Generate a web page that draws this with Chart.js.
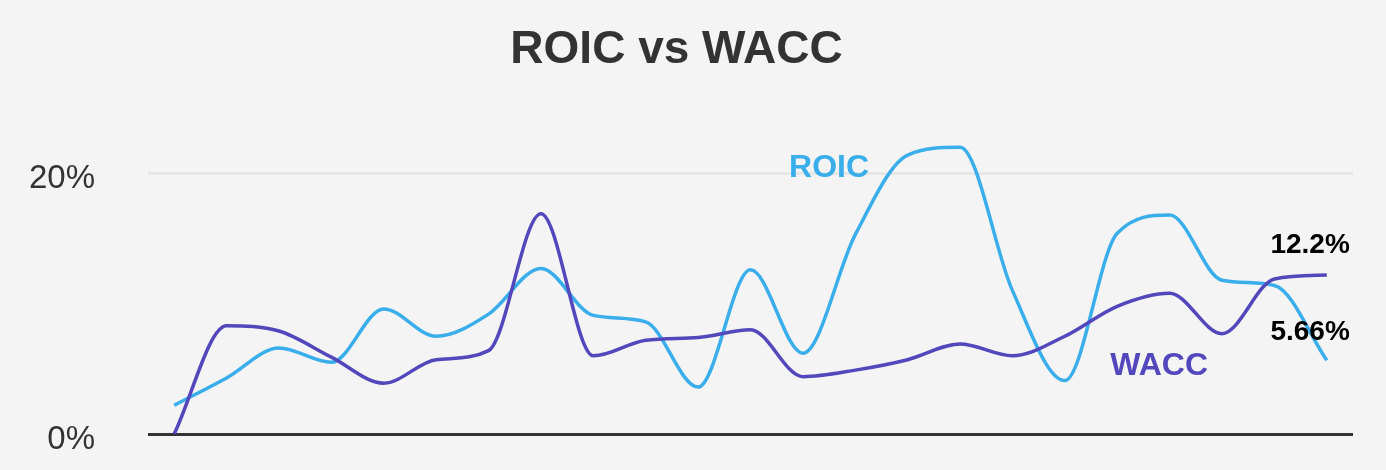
<!DOCTYPE html>
<html><head><meta charset="utf-8">
<script src="https://cdn.jsdelivr.net/npm/chart.js@4.4.0/dist/chart.umd.min.js"></script>
<style>html,body{margin:0;padding:0;background:#f4f4f4;}#wrap{width:1386px;height:470px;}</style>
</head><body><div id="wrap"><canvas id="c" width="1386" height="470"></canvas></div>
<script>
const categories = ['2001','2002','2003','2004','2005','2006','2007','2008','2009','2010','2011','2012','2013','2014','2015','2016','2017','2018','2019','2020','2021','2022','2023'];
const roic = [2.2, 4.3, 6.6, 5.5, 9.6, 7.5, 9.2, 12.7, 9.1, 8.6, 3.6, 12.6, 6.2, 15.3, 21.4, 22.0, 11.0, 4.1, 15.4, 16.8, 11.8, 11.4, 5.66];
const wacc = [0.0, 8.3, 7.9, 5.9, 3.9, 5.7, 6.4, 16.9, 6.0, 7.2, 7.4, 8.0, 4.4, 4.9, 5.7, 6.9, 6.0, 7.5, 9.8, 10.8, 7.7, 11.9, 12.2];
const yTickValues = [0, 20];
const seriesNames = ['ROIC', 'WACC'];
const titleText = 'ROIC vs WACC';

const FONT = '"Liberation Sans", Arial, Helvetica, sans-serif';
const C_ROIC = '#3aaeeb';
const C_WACC = '#5347bc';

const bgPlugin = {
  id: 'bg',
  beforeDraw(chart) {
    const ctx = chart.ctx;
    ctx.save();
    ctx.fillStyle = '#f4f4f4';
    ctx.fillRect(0, 0, chart.width, chart.height);
    ctx.restore();
  }
};

const labelPlugin = {
  id: 'labels',
  afterDatasetsDraw(chart) {
    const ctx = chart.ctx;
    const xs = chart.scales.x, ys = chart.scales.y;
    ctx.save();
    ctx.textAlign = 'center';
    ctx.textBaseline = 'middle';
    ctx.font = 'bold 32px ' + FONT;
    ctx.fillStyle = C_ROIC;
    const xr = (xs.getPixelForValue(12) + xs.getPixelForValue(13)) / 2;
    ctx.fillText(seriesNames[0], xr, ys.getPixelForValue(20.4));
    ctx.fillStyle = C_WACC;
    const xw = xs.getPixelForValue(18) + 0.8 * (xs.getPixelForValue(19) - xs.getPixelForValue(18));
    ctx.fillText(seriesNames[1], xw, ys.getPixelForValue(5.2));
    ctx.font = 'bold 28px ' + FONT;
    ctx.fillStyle = '#000';
    ctx.textAlign = 'right';
    const last = categories.length - 1;
    const xl = xs.getPixelForValue(last) + 23;
    ctx.fillText(wacc[last] + '%', xl, ys.getPixelForValue(wacc[last]) - 30);
    ctx.fillText(roic[last] + '%', xl, ys.getPixelForValue(roic[last]) - 28);
    ctx.restore();
  }
};

new Chart(document.getElementById('c'), {
  type: 'line',
  data: {
    labels: categories,
    datasets: [
      { label: seriesNames[1], data: wacc, borderColor: C_WACC, borderWidth: 3.5, pointRadius: 0, cubicInterpolationMode: 'monotone', fill: false },
      { label: seriesNames[0], data: roic, borderColor: C_ROIC, borderWidth: 3.5, pointRadius: 0, cubicInterpolationMode: 'monotone', fill: false }
    ]
  },
  options: {
    responsive: false,
    animation: false,
    layout: { padding: { left: 0, right: 33, top: 0, bottom: 36 } },
    plugins: {
      legend: { display: false },
      tooltip: { enabled: false },
      title: {
        display: true, text: titleText, color: '#333',
        font: { family: FONT, size: 46, weight: 'bold' },
        padding: { top: 23, bottom: 30 }
      }
    },
    scales: {
      x: { type: 'category', offset: true, display: false },
      y: {
        min: 0, max: 25,
        afterBuildTicks(scale) { scale.ticks = yTickValues.map(v => ({ value: v })); },
        afterFit(scale) { scale.width = 148; scale.paddingTop = 0; scale.paddingBottom = 0; },
        border: { display: false },
        grid: {
          drawTicks: false,
          color: ctx => ctx.tick && ctx.tick.value === 0 ? '#333' : '#e6e6e6',
          lineWidth: 3
        },
        ticks: {
          padding: 53, labelOffset: 6, color: '#333',
          font: { family: FONT, size: 33 },
          callback: v => v + '%'
        }
      }
    }
  },
  plugins: [bgPlugin, labelPlugin]
});
</script>
</body></html>
